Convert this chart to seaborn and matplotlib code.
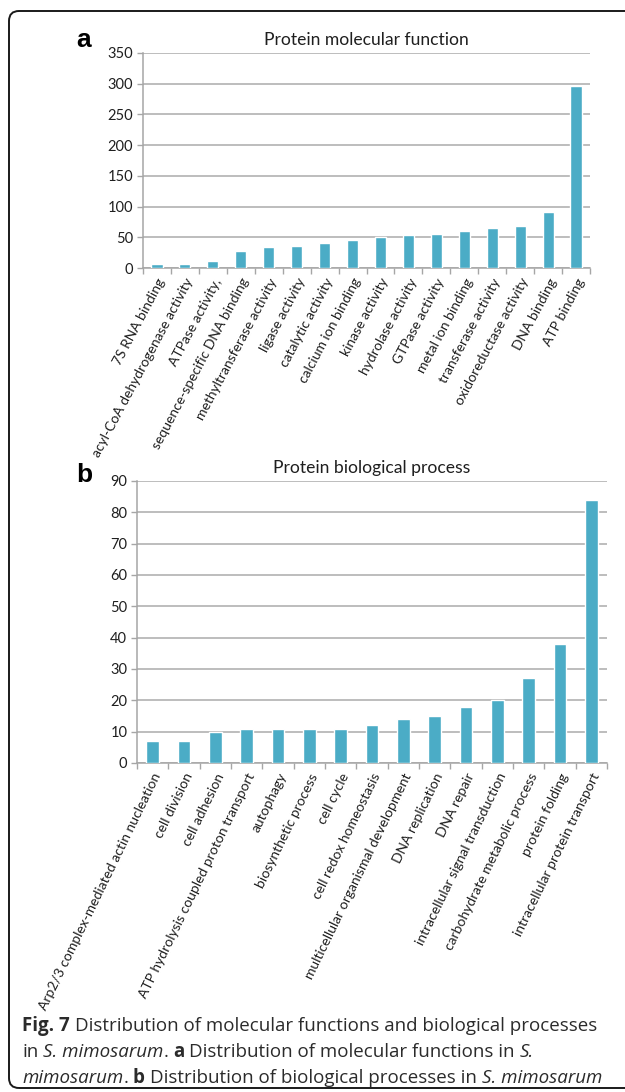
import matplotlib
matplotlib.use("Agg")
import matplotlib.pyplot as plt
from matplotlib.patches import FancyBboxPatch
from matplotlib.transforms import Bbox, TransformedBbox, IdentityTransform
import seaborn as sns

# Molecular function categories and protein counts
mf_terms = [
    "7S RNA binding", "acyl-CoA dehydrogenase activity", "ATPase activity,",
    "sequence-specific DNA binding", "methyltransferase activity", "ligase activity",
    "catalytic activity", "calcium ion binding", "kinase activity",
    "hydrolase activity", "GTPase activity", "metal ion binding",
    "transferase activity", "oxidoreductase activity", "DNA binding", "ATP binding",
]
mf_counts = [6, 7, 11, 28, 34, 36, 40, 45, 50, 53, 55, 60, 65, 68, 91, 296]
mf_yticks = [0, 50, 100, 150, 200, 250, 300, 350]

# Biological process categories and protein counts
bp_terms = [
    "Arp2/3 complex-mediated actin nucleation", "cell division", "cell adhesion",
    "ATP hydrolysis coupled proton transport", "autophagy", "biosynthetic process",
    "cell cycle", "cell redox homeostasis", "multicellular organismal development",
    "DNA replication", "DNA repair", "intracellular signal transduction",
    "carbohydrate metabolic process", "protein folding", "intracellular protein transport",
]
bp_counts = [7, 7, 10, 11, 11, 11, 11, 12, 14, 15, 18, 20, 27, 38, 84]
bp_yticks = [0, 10, 20, 30, 40, 50, 60, 70, 80, 90]

BAR = "#4BACC6"
GRID = "#BDBDBD"
AXIS = "#A6A6A6"
TXT = "#1F1F1F"
CHART_FONT = ["Lato", "DejaVu Sans"]
CAP_FONT = ["Open Sans", "DejaVu Sans"]

sns.set_theme(style="white")
plt.rcParams["font.family"] = CHART_FONT

W, H = 625, 1092
fig = plt.figure(figsize=(W / 100, H / 100), dpi=100)


def px_axes(left, top, right, bottom):
    return fig.add_axes([left / W, 1 - bottom / H, (right - left) / W, (bottom - top) / H])


def style_panel(ax, terms, counts, yticks, title, tick_rot):
    sns.barplot(x=terms, y=counts, order=terms, color=BAR, saturation=1,
                width=0.4, ax=ax, zorder=3)
    ax.set_ylim(yticks[0], yticks[-1])
    ax.set_xlim(-0.5, len(terms) - 0.5)
    ax.set_yticks(yticks)
    ax.set_yticklabels([str(v) for v in yticks], fontsize=10.5, color=TXT)
    ax.yaxis.grid(True, color=GRID, linewidth=1.4, zorder=0)
    ax.set_axisbelow(True)
    for s in ("top", "right"):
        ax.spines[s].set_visible(False)
    for s in ("left", "bottom"):
        ax.spines[s].set_color(AXIS)
        ax.spines[s].set_linewidth(1.1)
    ax.tick_params(axis="y", length=4, width=1, color=AXIS, pad=3, left=True)
    # category boundaries carry the tick marks
    ax.set_xticks([i - 0.5 for i in range(len(terms) + 1)], minor=True)
    ax.tick_params(axis="x", which="minor", length=4, width=1, color=AXIS, bottom=True)
    ax.set_xticks(range(len(terms)))
    ax.set_xticklabels(terms, rotation=tick_rot, ha="right", rotation_mode="anchor",
                       fontsize=10, color=TXT)
    ax.tick_params(axis="x", which="major", length=0, pad=6)
    ax.set_xlabel("")
    ax.set_ylabel("")
    ax.set_title(title, fontsize=12.6, color=TXT, pad=6)
    return ax


ax1 = px_axes(143, 53, 590, 268)
style_panel(ax1, mf_terms, mf_counts, mf_yticks, "Protein molecular function", 62)
ax2 = px_axes(137, 481, 607, 763)
style_panel(ax2, bp_terms, bp_counts, bp_yticks, "Protein biological process", 64)

# the upper panel's category labels are cropped at its left edge
clip = TransformedBbox(Bbox.from_extents(93 / W, 0, 1, 1), fig.transFigure)
for lab in ax1.get_xticklabels():
    lab.set_clip_on(True)
    lab.set_clip_box(clip)

# panel letters
fig.text(76 / W, 1 - 47 / H, "a", fontsize=19, fontweight="bold",
         family=["Liberation Sans", "DejaVu Sans"], color="#000000")
fig.text(76 / W, 1 - 482 / H, "b", fontsize=19, fontweight="bold",
         family=["Liberation Sans", "DejaVu Sans"], color="#000000")

# caption with mixed bold / italic runs
renderer = fig.canvas.get_renderer()
CAP_SIZE = 13.5


def text_width(s, **kw):
    t = fig.text(0, 0, s, fontsize=CAP_SIZE, family=CAP_FONT, **kw)
    w = t.get_window_extent(renderer).width
    t.remove()
    return w


space_w = text_width("x x") - text_width("xx")


def draw_line(x_px, base_px, runs):
    x = x_px
    for i, (s, weight, style) in enumerate(runs):
        if i > 0 and not s.startswith(".") and not s.startswith(","):
            x += space_w
        t = fig.text(x / W, 1 - base_px / H, s, fontsize=CAP_SIZE, family=CAP_FONT,
                     fontweight=weight, fontstyle=style, color="#2B2B2B",
                     va="baseline", ha="left")
        x += t.get_window_extent(renderer).width


draw_line(22, 1031, [("Fig. 7", "bold", "normal"),
                     ("Distribution of molecular functions and biological processes", "normal", "normal")])
draw_line(22, 1057, [("in", "normal", "normal"), ("S. mimosarum", "normal", "italic"),
                     (".", "normal", "normal"), ("a", "bold", "normal"),
                     ("Distribution of molecular functions in", "normal", "normal"),
                     ("S.", "normal", "italic")])
draw_line(22, 1083, [("mimosarum", "normal", "italic"), (".", "normal", "normal"),
                     ("b", "bold", "normal"),
                     ("Distribution of biological processes in", "normal", "normal"),
                     ("S. mimosarum", "normal", "italic")])

# rounded frame open to the right
frame = FancyBboxPatch((9, H - 1088), 700, 1088 - 11, boxstyle="round,pad=0,rounding_size=10",
                       transform=IdentityTransform(), fill=False, edgecolor="#1A1A1A",
                       linewidth=1.4)
fig.patches.append(frame)

fig.savefig("out.png", dpi=100)
